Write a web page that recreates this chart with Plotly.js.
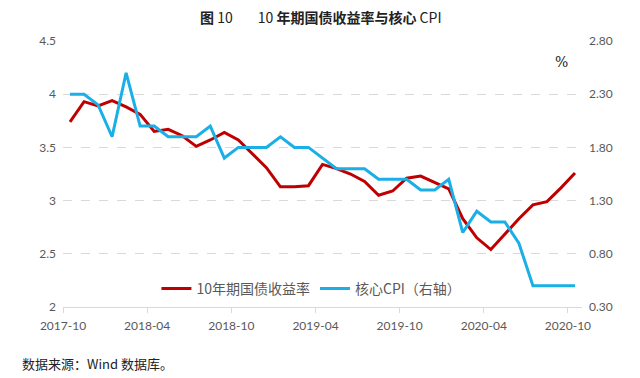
<!DOCTYPE html>
<html>
<head>
<meta charset="utf-8">
<script src="https://cdn.plot.ly/plotly-3.0.1.min.js"></script>
<style>
html,body{margin:0;padding:0;background:#fff;}
#chart{width:640px;height:378px;}
</style>
</head>
<body>
<div id="chart"></div>
<script>
// Months 2017-10 .. 2020-10
const months = ["2017-10","2017-11","2017-12","2018-01","2018-02","2018-03","2018-04","2018-05","2018-06","2018-07","2018-08","2018-09","2018-10","2018-11","2018-12","2019-01","2019-02","2019-03","2019-04","2019-05","2019-06","2019-07","2019-08","2019-09","2019-10","2019-11","2019-12","2020-01","2020-02","2020-03","2020-04","2020-05","2020-06","2020-07","2020-08","2020-09","2020-10"];
// 10-year treasury yield (%), left axis
const bondYield = [3.74,3.93,3.89,3.94,3.88,3.81,3.65,3.67,3.61,3.51,3.57,3.64,3.57,3.44,3.31,3.13,3.13,3.14,3.34,3.30,3.25,3.18,3.05,3.09,3.21,3.23,3.17,3.11,2.83,2.65,2.54,2.69,2.83,2.96,2.99,3.12,3.26];
// Core CPI (%), right axis
const coreCPI = [2.3,2.3,2.2,1.9,2.5,2.0,2.0,1.9,1.9,1.9,2.0,1.7,1.8,1.8,1.8,1.9,1.8,1.8,1.7,1.6,1.6,1.6,1.5,1.5,1.5,1.4,1.4,1.5,1.0,1.2,1.1,1.1,0.9,0.5,0.5,0.5,0.5];
const xTickLabels = ["2017-10","2018-04","2018-10","2019-04","2019-10","2020-04","2020-10"];
const leftTicks = [2,2.5,3,3.5,4,4.5];
const rightTicks = [0.3,0.8,1.3,1.8,2.3,2.8];

const idx = months.map((m,i)=>i);
const xTickVals = xTickLabels.map(l => months.indexOf(l) - 0.5);

const grey = "#595959";
const numFont = {family:"Lato, 'Noto Sans', sans-serif", size:12, color:grey};

const traces = [
  {x: idx, y: bondYield, name: "10年期国债收益率", type:"scatter", mode:"lines",
   line:{color:"#C00000", width:3}, yaxis:"y"},
  {x: idx, y: coreCPI, name: "核心CPI（右轴）", type:"scatter", mode:"lines",
   line:{color:"#1AAFE6", width:3}, yaxis:"y2"}
];

const layout = {
  width:640, height:378,
  margin:{l:63, r:58, t:41, b:71},
  paper_bgcolor:"#fff", plot_bgcolor:"#fff",
  font:{family:"'Noto Sans CJK SC', sans-serif", color:grey},
  showlegend:true,
  legend:{orientation:"h", x:0.18, xanchor:"left", y:0.068, yanchor:"middle",
    bgcolor:"rgba(0,0,0,0)", font:{family:"'Noto Sans CJK SC', sans-serif", size:14, color:grey},
    itemwidth:30},
  xaxis:{range:[-0.5, months.length-0.5], tickmode:"array", tickvals:xTickVals, ticktext:xTickLabels,
    showgrid:false, zeroline:false, showline:true, linecolor:"#d9d9d9", linewidth:1,
    ticks:"outside", ticklen:5, tickcolor:"#d9d9d9", tickfont:numFont, ticklabelstandoff:3, fixedrange:true},
  yaxis:{range:[2,4.5], tickmode:"array", tickvals:leftTicks, ticktext:leftTicks.map(v=>String(v)),
    showgrid:true, gridcolor:"#d9d9d9", griddash:"dash", gridwidth:1, zeroline:false, showline:false,
    ticks:"", tickfont:numFont, ticklabelstandoff:6},
  yaxis2:{range:[0.3,2.8], overlaying:"y", side:"right", tickmode:"array", tickvals:rightTicks,
    ticktext:rightTicks.map(v=>v.toFixed(2)), showgrid:false, zeroline:false, showline:false,
    ticks:"", tickfont:numFont, ticklabelstandoff:6},
  annotations:[
    {xref:"paper", yref:"paper", x:0.5, y:1, yanchor:"bottom", xanchor:"center", showarrow:false,
     text:"<b>图</b> 10        10 <b>年期国债收益率与核心</b> CPI",
     font:{family:"'Noto Sans CJK SC', sans-serif", size:14, color:"#222"}, xshift:-2, yshift:12},
    {xref:"paper", yref:"paper", x:(561.7-63)/519, y:(307-62)/266, xanchor:"center", yanchor:"middle",
     showarrow:false, text:"%", font:{family:"'DejaVu Serif', serif", size:14, color:"#222"}},
    {xref:"paper", yref:"paper", x:-63/519+20/519, y:-(363-307)/266, xanchor:"left", yanchor:"middle",
     showarrow:false, text:"数据来源：Wind 数据库。", font:{family:"'Noto Sans CJK SC', serif", size:13, color:"#222"}}
  ]
};

Plotly.newPlot("chart", traces, layout, {displayModeBar:false, staticPlot:true});
</script>
</body>
</html>
